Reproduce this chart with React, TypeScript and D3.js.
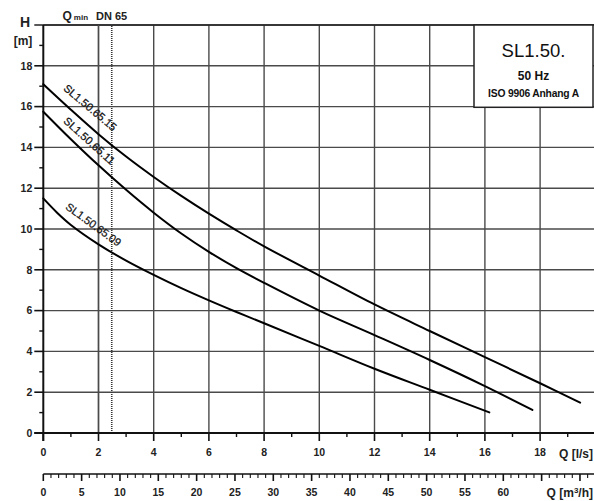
import React from "react";
import * as d3 from "d3";

// Pump curves: [Q l/s, H m]
const curve15: [number, number][] = [
  [0, 17.1], [1, 15.85], [2, 14.65], [3, 13.55], [4, 12.55], [5, 11.62], [6, 10.75],
  [7, 9.93], [8, 9.15], [10, 7.72], [12, 6.3], [14, 5.0], [16, 3.72], [18, 2.44], [19.45, 1.49],
];
const curve11: [number, number][] = [
  [0, 15.75], [1, 14.4], [2, 13.12], [3, 11.92], [4, 10.8], [5, 9.78], [6, 8.88],
  [7, 8.08], [8, 7.36], [10, 6.0], [12, 4.8], [14, 3.58], [16, 2.3], [17.72, 1.13],
];
const curve09: [number, number][] = [
  [0, 11.5], [0.5, 10.8], [1, 10.2], [2, 9.25], [3, 8.45], [4, 7.75], [5, 7.1], [6, 6.5],
  [7, 5.93], [8, 5.38], [10, 4.27], [12, 3.15], [14, 2.12], [16.16, 1.01],
];
const curveNames = ["SL1.50.65.15", "SL1.50.65.11", "SL1.50.65.09"];
// label anchors (Q, H) and rotation
const labelQ = [1.7, 1.67, 1.82];
const labelH = [15.95, 14.32, 10.22];
const labelAngle = [40, 42, 36];

const qTicksMajor = [0, 2, 4, 6, 8, 10, 12, 14, 16, 18];
const hTicksMajor = [0, 2, 4, 6, 8, 10, 12, 14, 16, 18];
const m3hLabels = [0, 5, 10, 15, 20, 25, 30, 35, 40, 45, 50, 55, 60];
const qMin = 2;
const dn65 = 2.48;

const W = 594;
const H = 501;
const FONT = "'Liberation Sans', Arial, Helvetica, sans-serif";

export default function App() {
  const x = d3.scaleLinear().domain([0, 20]).range([43.3, 595.3]);
  const y = d3.scaleLinear().domain([0, 20]).range([433, 25]);
  const xm = d3.scaleLinear().domain([0, 72]).range([x(0), x(72 / 3.6)]);
  const line = d3
    .line<[number, number]>()
    .x((d) => x(d[0]))
    .y((d) => y(d[1]))
    .curve(d3.curveCatmullRom.alpha(0.5));
  const curves = [curve15, curve11, curve09];
  const gridColor = "#4a4a4a";
  const axisY2 = 474;
  const minorQ = d3.range(1, 20, 2);
  const minorH = d3.range(1, 20, 2);
  const m3hTicks = d3.range(0, 72, 1);

  const boxL = 474;
  const boxR = 593;
  const boxT = y(20);
  const boxB = 107.3;

  return (
    <svg
      width={W}
      height={H}
      style={{ position: "absolute", left: 0, top: 0, background: "#fff" }}
      fontFamily={FONT}
    >
      <rect x={0} y={0} width={W} height={H} fill="#fff" />
      {/* grid */}
      {d3.range(2, 21, 2).map((q) => (
        <line key={"vg" + q} x1={x(q)} x2={x(q)} y1={y(0)} y2={y(20)} stroke={gridColor} strokeWidth={1.4} />
      ))}
      {d3.range(2, 21, 2).map((h) => (
        <line key={"hg" + h} x1={x(0)} x2={W} y1={y(h)} y2={y(h)} stroke={gridColor} strokeWidth={1.4} />
      ))}
      <line x1={x(0) - 9} x2={W} y1={y(20)} y2={y(20)} stroke="#222" strokeWidth={1.6} />
      {/* DN 65 dotted line */}
      <line x1={x(dn65)} x2={x(dn65)} y1={y(0)} y2={y(20)} stroke="#333" strokeWidth={1.6} strokeDasharray="1,1" />
      <line x1={x(qMin)} x2={x(qMin)} y1={y(0)} y2={y(20)} stroke={gridColor} strokeWidth={1.4} />

      {/* y axis */}
      <line x1={x(0)} x2={x(0)} y1={y(20)} y2={y(0) + 8} stroke="#111" strokeWidth={2} />
      {hTicksMajor.map((h) => (
        <g key={"yt" + h}>
          <line x1={x(0) - 9} x2={x(0)} y1={y(h)} y2={y(h)} stroke="#111" strokeWidth={1.6} />
          <text x={x(0) - 11} y={y(h)} dy="0.36em" textAnchor="end" fontSize={10.5} fontWeight="bold" fill="#222">
            {h}
          </text>
        </g>
      ))}
      {minorH.map((h) => (
        <line key={"ym" + h} x1={x(0) - 4} x2={x(0)} y1={y(h)} y2={y(h)} stroke="#111" strokeWidth={1.4} />
      ))}
      <text x={25} y={27} textAnchor="middle" fontSize={14} fontWeight="bold" fill="#222">H</text>
      <text x={23} y={45} textAnchor="middle" fontSize={12} fontWeight="bold" fill="#222">[m]</text>

      {/* x axis l/s */}
      <line x1={x(0) - 9} x2={W} y1={y(0)} y2={y(0)} stroke="#111" strokeWidth={2} />
      {qTicksMajor.map((q) => (
        <g key={"xt" + q}>
          <line x1={x(q)} x2={x(q)} y1={y(0)} y2={y(0) + 8} stroke="#111" strokeWidth={1.6} />
          <text x={x(q)} y={456} textAnchor="middle" fontSize={10.5} fontWeight="bold" fill="#222">
            {q}
          </text>
        </g>
      ))}
      {minorQ.map((q) => (
        <line key={"xm" + q} x1={x(q)} x2={x(q)} y1={y(0)} y2={y(0) + 4} stroke="#111" strokeWidth={1.4} />
      ))}
      <text x={593} y={457.5} textAnchor="end" fontSize={12} fontWeight="bold" fill="#222">Q [l/s]</text>

      {/* x axis m3/h */}
      <line x1={x(0)} x2={W} y1={axisY2} y2={axisY2} stroke="#111" strokeWidth={1.6} />
      {m3hTicks.map((m) => (
        <line
          key={"mt" + m}
          x1={xm(m)}
          x2={xm(m)}
          y1={axisY2}
          y2={axisY2 + (m % 5 === 0 ? 7 : 4)}
          stroke="#111"
          strokeWidth={m % 5 === 0 ? 1.6 : 1.1}
        />
      ))}
      {m3hLabels.map((m) => (
        <text key={"ml" + m} x={xm(m)} y={496} textAnchor="middle" fontSize={10.5} fontWeight="bold" fill="#222">
          {m}
        </text>
      ))}
      <text x={593} y={497} textAnchor="end" fontSize={12} fontWeight="bold" fill="#222">
        Q [m<tspan fontSize={8} dy={-4}>3</tspan><tspan dy={4}>/h]</tspan>
      </text>

      {/* Qmin / DN65 labels */}
      <text x={x(qMin) - 36} y={20} fontWeight="bold" fill="#222">
        <tspan fontSize={12}>Q</tspan>
        <tspan fontSize={8} dx={2}>min</tspan>
      </text>
      <text x={96} y={20} fontSize={11} fontWeight="bold" fill="#222">DN 65</text>

      {/* curves */}
      {curves.map((c, i) => (
        <path key={"c" + i} d={line(c) || ""} fill="none" stroke="#000" strokeWidth={2} strokeLinecap="round" />
      ))}
      {curveNames.map((n, i) => (
        <text
          key={"lab" + i}
          transform={`translate(${x(labelQ[i])},${y(labelH[i])}) rotate(${labelAngle[i]})`}
          textAnchor="middle"
          dy="0.35em"
          fontSize={11}
          fill="#111"
          stroke="#111"
          strokeWidth={0.25}
        >
          {n}
        </text>
      ))}

      {/* title box */}
      <rect x={boxL} y={boxT} width={boxR - boxL} height={boxB - boxT} fill="#fff" stroke="#222" strokeWidth={1.5} />
      <text x={(boxL + boxR) / 2} y={57} textAnchor="middle" fontSize={18.5} fill="#111">SL1.50.</text>
      <text x={(boxL + boxR) / 2} y={80} textAnchor="middle" fontSize={12} fontWeight="bold" fill="#111">50 Hz</text>
      <text x={(boxL + boxR) / 2} y={97} textAnchor="middle" fontSize={10.3} fontWeight="bold" fill="#111" letterSpacing={-0.2}>
        ISO 9906 Anhang A
      </text>
    </svg>
  );
}
